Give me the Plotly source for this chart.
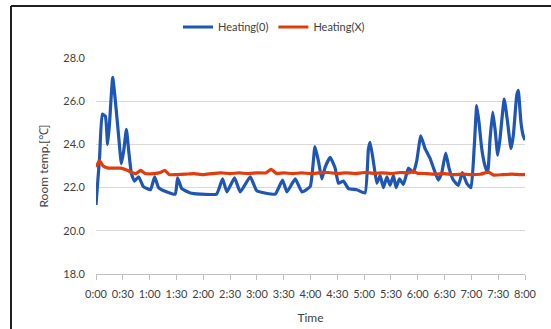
import plotly.graph_objects as go

# time in minutes after 0:00
heat_on_t = [0, 4, 7, 10.5, 13, 15, 18.7, 21.7, 25.4, 28.4, 31, 34, 36.6, 39.6, 43, 47.7, 53, 61, 65.6, 70,
             79.5, 88.7, 91.3, 96, 105.5, 116.7, 135, 141.6, 146.5, 155, 161.4, 172.6, 180, 200.5, 208.7,
             213.6, 222.9, 230.4, 239.7, 245, 249, 252.7, 256.4, 262, 267.6, 271.3, 276.9, 282.5, 291.8,
             301, 304.8, 306.7, 310.4, 314.2, 317.9, 321.6, 325.4, 329, 332.8, 335.8, 339.5, 344, 349.6,
             355.2, 358.9, 363.4, 368.2, 371.9, 373.8, 379.4, 383, 386.9, 391.3, 395, 399.8, 405.4, 409.9,
             414.8, 419.6, 423.3, 426, 428.6, 431.6, 435.3, 438.3, 440.9, 443.9, 446.5, 449.5, 452, 456.8,
             460.6, 464.3, 466.9, 470.7, 472.5, 475.5, 478, 480]
heat_on_v = [21.2, 23.4, 25.4, 25.3, 24.0, 24.9, 27.1, 26.0, 24.35, 23.1, 23.7, 24.7, 23.7, 22.65, 22.3, 22.5,
             22.05, 21.9, 22.5, 22.0, 21.8, 21.7, 22.45, 21.95, 21.75, 21.7, 21.7, 22.4, 21.8, 22.45, 21.8,
             22.5, 21.85, 21.7, 22.35, 21.8, 22.4, 21.8, 22.05, 23.9, 23.2, 22.4, 22.95, 23.4, 22.9, 22.2,
             22.3, 21.95, 21.9, 21.75, 23.8, 24.1, 23.2, 22.2, 22.55, 22.0, 22.5, 22.1, 22.55, 22.0, 22.4,
             22.15, 22.9, 22.7, 23.25, 24.4, 23.8, 23.5, 23.35, 22.7, 22.35, 22.7, 23.6, 22.9, 22.35, 22.1,
             22.7, 22.2, 22.0, 23.95, 25.8, 25.0, 23.8, 23.0, 22.7, 24.25, 25.5, 24.7, 23.5, 24.25, 26.1,
             25.0, 23.8, 24.4, 26.25, 26.5, 25.0, 24.4, 24.2]

heat_off_t = [0, 4, 8, 14, 20, 28, 35, 40, 45, 50, 55, 65, 72, 77, 82, 90, 100, 110, 120, 130, 140, 150,
              160, 170, 180, 190, 196, 202, 210, 220, 230, 240, 250, 260, 270, 280, 290, 300, 310, 320,
              330, 340, 350, 355, 360, 370, 380, 390, 400, 410, 420, 430, 439, 445, 455, 465, 475, 480]
heat_off_v = [22.95, 23.25, 23.0, 22.9, 22.9, 22.9, 22.8, 22.7, 22.65, 22.8, 22.65, 22.65, 22.7, 22.8, 22.6,
              22.6, 22.62, 22.65, 22.6, 22.65, 22.68, 22.65, 22.68, 22.65, 22.68, 22.68, 22.85, 22.65,
              22.68, 22.65, 22.68, 22.65, 22.68, 22.7, 22.65, 22.68, 22.65, 22.7, 22.66, 22.68, 22.65,
              22.7, 22.68, 22.75, 22.66, 22.65, 22.62, 22.65, 22.6, 22.62, 22.6, 22.62, 22.72, 22.58,
              22.6, 22.62, 22.6, 22.6]

tick_vals = list(range(0, 481, 30))
tick_text = ["0:00", "0:30", "1:00", "1:30", "2:00", "2:30", "3:00", "3:30", "4:00", "4:30",
             "5:00", "5:30", "6:00", "6:30", "7:00", "7:30", "8:00"]

font_family = "Lato, 'Noto Sans', sans-serif"
text_color = "#404040"

fig = go.Figure()
fig.add_trace(go.Scatter(x=heat_on_t, y=heat_on_v, mode="lines", name="Heating(0)",
                         line=dict(color="#1f56b4", width=3.2, shape="spline", smoothing=0.4)))
fig.add_trace(go.Scatter(x=heat_off_t, y=heat_off_v, mode="lines", name="Heating(X)",
                         line=dict(color="#e03c0c", width=3.2, shape="spline", smoothing=0.4)))

L, R, T, B = 96, 26, 58, 55
W, H = 551, 329
pw, ph = W - L - R, H - T - B

def px_x(p):
    return (p - L) / pw

def px_y(p):
    return 1 + (T - p) / ph

fig.update_layout(
    width=W, height=H,
    margin=dict(l=L, r=R, t=T, b=B, pad=0, autoexpand=False),
    paper_bgcolor="white", plot_bgcolor="white",
    font=dict(family=font_family, size=11, color=text_color),
    showlegend=True,
    legend=dict(orientation="h", x=px_x(178), xanchor="left", y=px_y(27), yanchor="middle",
                font=dict(size=11, color=text_color), itemwidth=30, bgcolor="rgba(0,0,0,0)"),
    xaxis=dict(range=[0, 480], tickmode="array", tickvals=tick_vals, ticktext=tick_text,
               showgrid=False, showline=True, linecolor="#bfbfbf", linewidth=1,
               ticks="outside", ticklen=5, tickcolor="#bfbfbf", zeroline=False,
               ticklabelstandoff=5, automargin=False,
               title=dict(text="Time", font=dict(size=12, color=text_color), standoff=14)),
    yaxis=dict(range=[18, 28], dtick=2, tick0=18, tickformat=".1f", showgrid=True,
               gridcolor="#d9d9d9", gridwidth=1, showline=False, zeroline=False,
               ticks="", ticklabelstandoff=10, automargin=False,
               title=dict(text="Room temp.[℃]", font=dict(size=12, color=text_color), standoff=12)),
    shapes=[
        dict(type="line", xref="paper", yref="paper", x0=px_x(11), x1=px_x(560), y0=px_y(6), y1=px_y(6),
             line=dict(color="#202020", width=2)),
        dict(type="line", xref="paper", yref="paper", x0=px_x(11), x1=px_x(11), y0=px_y(6), y1=px_y(340),
             line=dict(color="#202020", width=2)),
    ],
)

fig.write_html("out.html")
